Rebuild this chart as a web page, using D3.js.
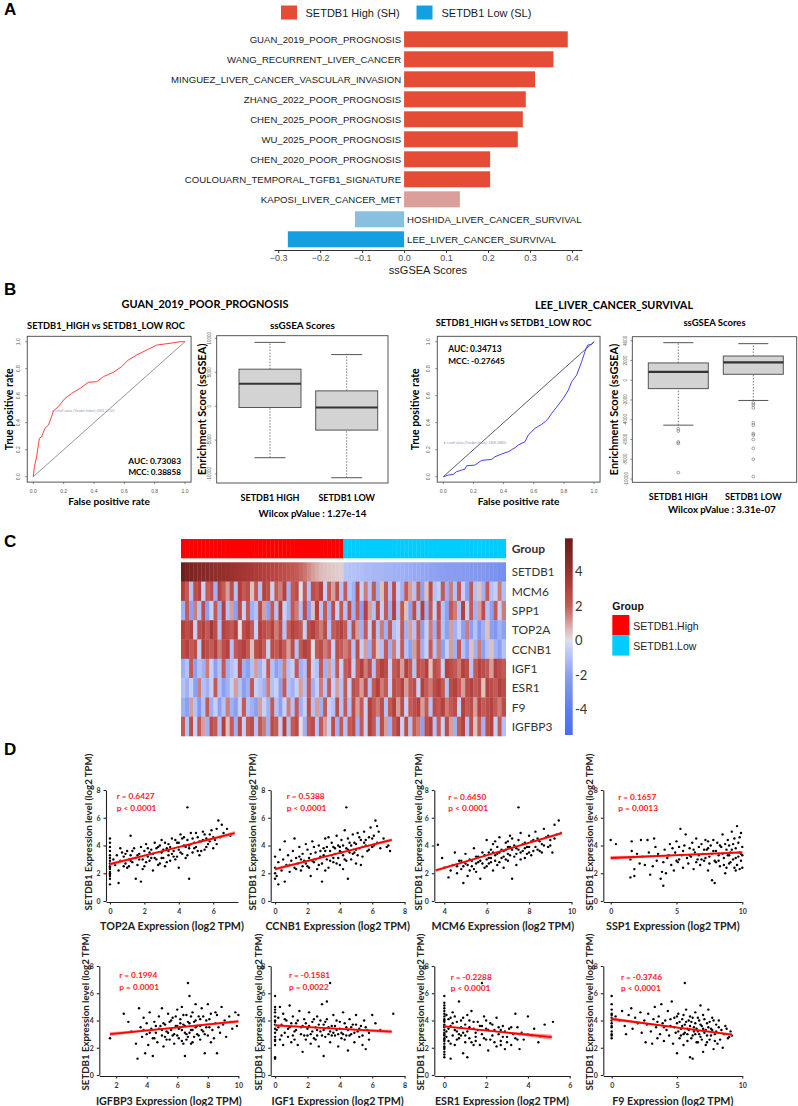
<!DOCTYPE html>
<html><head><meta charset="utf-8">
<script src="https://cdn.jsdelivr.net/npm/d3@7"></script>
<style>body{margin:0;background:#fff}svg{display:block}</style>
</head><body>
<svg id="c" width="798" height="1106"></svg>
<script>
// ---------------- DATA ----------------
// Panel A
const aCats = ["GUAN_2019_POOR_PROGNOSIS","WANG_RECURRENT_LIVER_CANCER","MINGUEZ_LIVER_CANCER_VASCULAR_INVASION","ZHANG_2022_POOR_PROGNOSIS","CHEN_2025_POOR_PROGNOSIS","WU_2025_POOR_PROGNOSIS","CHEN_2020_POOR_PROGNOSIS","COULOUARN_TEMPORAL_TGFB1_SIGNATURE","KAPOSI_LIVER_CANCER_MET","HOSHIDA_LIVER_CANCER_SURVIVAL","LEE_LIVER_CANCER_SURVIVAL"];
const aVals = [0.390,0.356,0.312,0.290,0.283,0.271,0.205,0.205,0.133,-0.117,-0.277];
const aTicks = [-0.3,-0.2,-0.1,0.0,0.1,0.2,0.3,0.4];
const aLegend = ["SETDB1 High (SH)","SETDB1 Low (SL)"];

// Panel B
const guanRoc = [[0,0],[0.007,0.074],[0.022,0.148],[0.04,0.284],[0.055,0.296],[0.077,0.358],[0.1,0.383],[0.12,0.444],[0.132,0.486],[0.165,0.519],[0.209,0.58],[0.253,0.617],[0.308,0.654],[0.363,0.699],[0.418,0.704],[0.462,0.741],[0.527,0.773],[0.582,0.815],[0.626,0.864],[0.681,0.901],[0.747,0.938],[0.813,0.975],[0.901,0.988],[0.967,1],[1,1]];
const leeRoc = [[0,0],[0.033,0.012],[0.066,0.017],[0.088,0.037],[0.122,0.049],[0.144,0.057],[0.155,0.081],[0.21,0.086],[0.254,0.121],[0.321,0.128],[0.343,0.148],[0.387,0.168],[0.431,0.185],[0.476,0.215],[0.498,0.235],[0.542,0.259],[0.564,0.309],[0.608,0.358],[0.653,0.388],[0.675,0.407],[0.697,0.432],[0.719,0.469],[0.763,0.531],[0.796,0.58],[0.83,0.642],[0.852,0.704],[0.885,0.753],[0.918,0.852],[0.94,0.926],[0.958,0.975],[0.985,0.98],[1,1]];
const rocTicks = [0,0.2,0.4,0.6,0.8,1.0];
const guanCut = [0.132,0.486];
const leeCut = [0.01,0.25];
const boxGroups = ["SETDB1 HIGH","SETDB1 LOW"];
// [lower whisker, q1, median, q3, upper whisker]
const guanBox = [[-7600,-200,3300,5450,9400],[-10550,-3530,-200,2250,7600]];
const leeBox = [[-4550,-850,850,1750,3800],[-2050,600,1800,2450,3700]];
const leeOutliers = [[-4900,-5150,-6250,-6400,-9350],[-2300,-2500,-2800,-4300,-4550,-5400,-5550,-6000,-6900,-8000,-9750]];
const guanBoxTicks = [-10000,-5000,0,5000,10000];
const leeBoxTicks = [-10000,-8000,-6000,-4000,-2000,0,2000,4000];

// Panel C
const genes = ["SETDB1","MCM6","SPP1","TOP2A","CCNB1","IGF1","ESR1","F9","IGFBP3"];
const groups = ["SETDB1.High","SETDB1.Low"];
const nHigh = 40;
const hmSETDB1 = [5.6,5.3,5.1,4.9,4.8,4.7,4.6,4.4,4.3,4.2,4.1,4.0,3.9,3.8,3.7,3.6,3.5,3.4,3.3,3.2,3.1,3.0,2.9,2.8,2.6,2.5,2.3,2.2,2.0,1.8,1.6,1.3,1.0,0.8,0.6,0.5,0.45,0.4,0.35,0.3,
 -0.9,-1.0,-1.0,-1.1,-1.1,-1.2,-1.2,-1.3,-1.3,-1.3,-1.4,-1.4,-1.5,-1.5,-1.5,-1.6,-1.6,-1.7,-1.7,-1.8,-1.8,-1.9,-1.9,-2.0,-2.0,-2.1,-2.1,-2.2,-2.2,-2.3,-2.3,-2.4,-2.4,-2.5,-2.5,-2.6,-2.7,-2.8,-2.9,-3.0];
const hmMCM6 = [3,2,-1,2.5,3,-0.5,2,2.5,-1.5,3,2,1,2.5,-1,3,2,2.5,0.5,2,-1,3,2.5,-0.5,2,1.5,3,-1.5,2,2.5,0,2,-1,2.5,2,3,-0.5,2,1,2.5,-1,
 2,-1,-1.5,2.5,-0.5,1.5,-1,2,-1.5,0.5,2,-1,2.5,-0.5,-1.5,2,1,-1,2,-2,0.5,2.5,-1,-0.5,2,-1.5,1.5,-1,2,-0.5,-2,2,-1,0.5,-1.5,2,-1,-0.5,1.5,-1];
const hmSPP1 = [-1.5,2,-2,1.5,-1,2.5,-2,-0.5,2,-1.5,3,-1,1,-2,2.5,-0.5,2,-1.5,-1,2.5,1,-2,2,-1,3,-0.5,-1.5,2,1.5,-1,2.5,-2,0.5,3,-1,2,-1.5,2.5,-0.5,2,
 -1,2.5,-1.5,2,-2,3,1,-1,2.5,-0.5,2,-1.5,3,-1,2,0.5,-2,2.5,-1,3,-1.5,2,-0.5,2.5,-1,-2,2,1.5,-1,3,-0.5,2,-1.5,1,2.5,-1,-2,2,-0.5,1.5];
const hmTOP2A = [3,2.5,3,-0.5,2.5,3,2,3.5,2.5,-1,3,2.5,2,3,0,2.5,3,2,-0.5,3,2.5,2,3,1.5,2.5,-1,2,3,2.5,2,-0.5,2.5,3,2,1.5,2.5,-1,2,2.5,3,
 2,-1,2.5,1,-1.5,2,-0.5,2.5,-1,1.5,-1.5,2,-1,-0.5,2,-1.5,1,-1,2,-2,-0.5,1.5,-1.5,2,-1,-2,1,-1.5,-0.5,-2,1.5,-2,-1,-2.5,-1.5,0.5,-2,-2.5,-1.5,-2];
const hmCCNB1 = [2.5,3,2,2.5,-0.5,3,2.5,2,3,1.5,2.5,3,-1,2,2.5,3,2,0.5,2.5,3,2,-0.5,2.5,2,3,2,1,2.5,-1,2,3,2.5,0,2,2.5,1.5,2,-0.5,2.5,2,
 1.5,2,-1,2.5,-0.5,1,-1.5,2,0.5,-1,2,-1.5,1.5,-0.5,2,-1,-2,1,2,-1.5,-0.5,2,-1,1.5,-2,-0.5,1,-1.5,2,-1,-2,0.5,-1.5,1.5,-2,-1,0.5,-1.5,-2,-1];
const hmIGF1 = [-1.5,-1,2,-2,-1,-1.5,1.5,-0.5,-2,-1,2,-1.5,-1,-0.5,2.5,-1.5,-2,-1,1,-1.5,-0.5,2,-1,-2,-1.5,1.5,-1,-0.5,2,-1.5,-1,2.5,-0.5,-1,2,-1.5,1,-1,2,-0.5,
 2,2.5,-0.5,2,3,1.5,2.5,-1,2,3,2.5,-0.5,2,2.5,1,3,2,-1,2.5,2,3,0.5,2.5,2,-0.5,3,2.5,2,1.5,3,2.5,-1,2,3,2.5,2,1,3,2.5,2];
const hmESR1 = [-1,-1.5,-0.5,-2,1.5,-1,-1.5,-0.5,2,-1,-2,-1.5,-0.5,1,-1,-2,-1.5,2,-0.5,-1,-1.5,1.5,-1,-0.5,-2,2,-1,-1.5,-0.5,1,-1,2,-1.5,-0.5,1.5,-1,2,-0.5,1,-1,
 2,-0.5,2.5,2,1,2.5,-1,2,3,1.5,2,-0.5,2.5,2,3,1,2,2.5,-0.5,3,2,1.5,2.5,3,2,-1,2.5,3,2,1,2.5,3,2,2.5,0.5,3,2.5,2,3,2.5];
const hmF9 = [-1.5,-2,1,-1,-2.5,-1,2,-1.5,-0.5,-2,-1,1.5,-1.5,-2,-0.5,2,-1,-1.5,-2,1,-0.5,-1.5,2,-1,-2,-0.5,1.5,-1,2,-1.5,-0.5,2.5,-1,1,-1.5,2,-0.5,-1,2.5,-1,
 2,-1,2.5,1,2,-0.5,3,2,1.5,2.5,-1,2,3,1,2.5,-0.5,2,2.5,3,1,2,-1,2.5,2,3,1.5,2,2.5,-0.5,3,2,2.5,1,3,2,2.5,3,2,1.5,2.5];
const hmIGFBP3 = [2,-1,2.5,-0.5,2,1,-1.5,2.5,2,-1,3,0.5,2,-1.5,2.5,-0.5,2,2.5,-1,2,1.5,-1.5,2.5,2,-0.5,3,-1,2,2.5,0,-1.5,2,2.5,-1,2,1,-0.5,2.5,-1.5,2,
 -1,2,2.5,-1.5,2,-0.5,3,2,-1,2.5,1,-1.5,2,3,-0.5,2.5,-1,2,1.5,-2,2.5,3,-1,2,-0.5,2.5,1,-1.5,2,3,-1,2.5,0.5,2,-1.5,2.5,3,-0.5,2,-1];
const cbTicks = [-4,-2,0,2,4];

// Panel D
const top2aPts = [[0,1.2],[0,1.6],[0,1.9],[0,2.1],[0,2.3],[0,2.5],[0,2.7],[0,2.9],[0,3.1],[0,3.3],[0,3.6],[0,3.9],[0,4.2],[0,4.5],[0,2.0],[0,1.8],[0,2.4],[0.2,3.0],[0.3,2.6],[0.4,3.3],[0.5,2.2],[0.5,1.3],[0.6,2.9],[0.7,3.5],[0.8,3.2],[0.9,2.7],[1.0,3.6],[1.0,2.4],[1.1,3.0],[1.2,4.7],[1.2,3.3],[1.3,2.8],[1.4,3.8],[1.5,1.6],[1.5,3.1],[1.6,2.6],[1.7,3.4],[1.8,3.9],[1.8,1.4],[1.9,3.0],[2.0,2.5],[2.0,3.6],[2.1,4.1],[2.2,3.2],[2.3,2.9],[2.4,3.7],[2.5,2.2],[2.5,3.4],[2.6,4.2],[2.7,3.0],[2.8,3.9],[2.9,2.7],[3.0,3.5],[3.0,4.4],[3.1,3.1],[3.2,2.5],[3.3,3.8],[3.4,4.1],[3.4,3.3],[3.5,2.9],[3.6,4.5],[3.7,3.6],[3.8,3.0],[3.9,4.2],[4.0,3.7],[4.0,2.4],[4.1,4.8],[4.2,3.4],[4.3,4.0],[4.4,3.1],[4.5,4.4],[4.5,6.75],[4.6,3.8],[4.6,1.6],[4.7,4.9],[4.8,3.5],[4.9,4.2],[5.0,3.9],[5.1,4.6],[5.2,3.3],[5.3,4.3],[5.4,5.0],[5.5,3.7],[5.6,4.5],[5.7,4.1],[5.8,4.8],[5.9,5.1],[6.0,3.8],[6.1,4.4],[6.2,5.2],[6.3,5.8],[6.4,4.6],[6.5,5.5],[6.6,4.9],[6.8,5.2],[7.0,4.7],[2.7,3.8],[3.6,3.4],[4.3,4.6],[1.9,2.3],[2.9,4.0],[3.9,3.2],[5.1,3.6],
 [0.6,3.8],[0.9,3.4],[1.1,2.5],[1.3,3.6],[1.6,3.3],[2.1,2.8],[2.3,3.5],[2.6,3.1],[2.8,2.6],[3.1,3.7],[3.2,4.2],[3.3,2.8],[3.5,3.9],[3.7,3.2],[3.8,4.4],[4.1,3.5],[4.2,4.5],[4.4,3.9],[4.5,3.3],[4.7,4.1],[4.8,4.5],[4.9,3.8],[5.0,4.9],[5.2,4.3],[5.3,3.6],[5.5,4.8],[5.6,3.9],[5.8,4.3],[6.0,4.6],[6.2,4.1],[3.4,3.6],[2.4,3.1],[1.7,3.0],[1.2,2.9],[0.8,2.5],[4.0,4.2],[3.0,3.1],[2.2,3.8],[5.4,4.4],[4.6,4.0]];
const ccnb1Pts = [[0,1.6],[0,2.0],[0,2.4],[0,3.2],[0.1,1.8],[0.2,2.8],[0.2,1.2],[0.3,3.7],[0.4,2.2],[0.5,3.0],[0.6,4.3],[0.6,1.4],[0.7,2.6],[0.8,3.3],[0.9,2.1],[1.0,2.9],[1.1,3.6],[1.2,2.4],[1.2,4.5],[1.3,3.1],[1.4,2.7],[1.5,3.9],[1.6,2.2],[1.7,3.4],[1.8,2.9],[1.9,4.1],[2.0,2.5],[2.0,3.7],[2.1,3.1],[2.2,1.8],[2.3,4.3],[2.4,2.8],[2.5,3.5],[2.6,2.3],[2.7,4.0],[2.8,3.2],[2.9,1.4],[2.9,2.7],[3.0,3.8],[3.1,4.5],[3.2,3.0],[3.3,2.4],[3.4,3.6],[3.5,4.2],[3.6,2.8],[3.7,3.4],[3.8,4.7],[3.9,3.1],[4.0,2.6],[4.0,3.9],[4.1,4.4],[4.2,3.3],[4.3,5.1],[4.4,2.9],[4.4,6.75],[4.5,3.7],[4.5,1.6],[4.6,4.2],[4.7,3.0],[4.8,4.8],[4.9,3.5],[5.0,4.1],[5.0,2.7],[5.1,4.9],[5.2,3.8],[5.3,4.4],[5.4,3.2],[5.5,5.0],[5.6,4.0],[5.7,3.6],[5.8,4.6],[5.9,5.3],[6.0,3.9],[6.1,4.7],[6.2,5.8],[6.2,4.1],[6.3,5.4],[6.5,3.8],[6.7,4.5],[6.9,3.9],[7.0,4.0],[7.1,3.6],[3.1,2.2],[2.4,3.9],[3.6,3.9],[4.2,2.3],[1.6,3.0],[5.3,2.6],[4.8,3.4],[3.3,4.6],
 [0.9,2.6],[1.3,2.3],[1.5,3.2],[1.9,2.7],[2.2,3.4],[2.5,3.0],[2.7,2.6],[2.8,3.6],[3.0,3.3],[3.2,3.9],[3.4,2.9],[3.5,3.3],[3.7,3.8],[3.9,4.0],[4.1,3.5],[4.2,4.0],[4.3,3.0],[4.5,4.5],[4.6,3.5],[4.7,4.0],[4.9,4.2],[5.1,3.3],[5.2,4.6],[5.4,3.9],[5.6,4.4],[5.8,3.7],[6.0,4.5],[6.1,4.0],[6.3,4.2],[6.4,5.0],[2.3,2.9],[3.6,3.1],[4.0,3.6],[4.4,3.8],[3.1,3.6],[2.1,2.4],[5.0,3.7],[5.5,4.2],[1.7,2.5],[3.8,2.7]];
const mcm6Pts = [[3.7,4.05],[3.9,3.1],[4.0,2.4],[4.2,1.7],[4.3,2.2],[4.4,2.6],[4.5,3.5],[4.6,2.0],[4.7,2.9],[4.8,2.3],[4.9,1.3],[5.0,2.7],[5.0,3.4],[5.1,1.8],[5.2,3.0],[5.3,2.5],[5.4,3.8],[5.5,2.1],[5.5,3.2],[5.6,2.8],[5.7,1.6],[5.8,3.5],[5.9,2.4],[6.0,3.0],[6.0,4.4],[6.1,2.7],[6.2,3.7],[6.3,2.2],[6.3,4.1],[6.4,3.3],[6.5,2.6],[6.5,3.9],[6.6,4.6],[6.7,3.1],[6.8,3.6],[6.8,2.4],[6.9,4.2],[7.0,3.4],[7.0,2.9],[7.1,3.9],[7.2,1.6],[7.2,4.5],[7.3,3.2],[7.4,3.8],[7.5,4.4],[7.5,6.75],[7.6,3.0],[7.6,4.9],[7.7,3.6],[7.8,4.2],[7.9,3.4],[8.0,4.7],[8.0,3.9],[8.1,3.3],[8.2,4.4],[8.3,5.0],[8.4,3.7],[8.5,4.3],[8.6,3.5],[8.7,5.2],[8.8,4.6],[8.9,3.9],[9.0,4.4],[9.1,3.5],[9.2,5.5],[9.3,4.8],[9.4,5.8],[9.5,4.9],[6.2,3.1],[5.7,2.9],[6.9,3.0],[7.4,2.6],[8.2,3.6],[6.6,3.5],[5.4,2.3],[7.8,3.1],[6.1,3.5],[7.1,4.7],[4.9,2.5],[8.6,4.1],
 [4.6,2.5],[4.8,2.9],[5.1,2.6],[5.2,2.2],[5.3,2.9],[5.6,3.2],[5.8,2.7],[5.9,3.3],[6.0,2.5],[6.1,3.1],[6.2,2.8],[6.3,3.5],[6.4,2.9],[6.5,3.4],[6.6,2.8],[6.7,3.7],[6.8,3.2],[6.9,3.7],[7.0,3.9],[7.1,3.3],[7.2,3.7],[7.3,4.0],[7.4,3.4],[7.5,3.7],[7.6,3.5],[7.7,4.1],[7.8,3.8],[7.9,3.9],[8.0,3.5],[8.1,4.3],[8.3,3.9],[8.4,4.5],[8.5,3.6],[8.7,4.0],[8.9,4.7],[9.0,4.0],[9.2,4.5],[6.4,4.3],[7.0,4.3],[5.5,2.7]];
const ssp1Pts = [[0,4.4],[0.4,4.1],[1.5,3.0],[1.5,1.7],[1.6,4.3],[1.6,3.6],[1.8,2.3],[1.8,1.8],[2.0,3.4],[2.3,4.4],[2.4,3.2],[2.6,2.6],[2.8,4.4],[2.9,3.5],[3.0,1.9],[3.2,2.5],[3.3,4.5],[3.5,2.9],[3.6,3.4],[3.8,1.6],[3.9,2.1],[4.0,1.1],[4.1,3.7],[4.2,2.0],[4.3,3.1],[4.5,4.1],[4.6,2.6],[4.7,3.8],[4.8,2.2],[4.9,3.5],[5.0,4.3],[5.1,2.8],[5.2,3.9],[5.3,5.2],[5.4,3.3],[5.5,2.4],[5.6,4.0],[5.7,4.8],[5.8,3.1],[5.9,2.7],[6.0,3.8],[6.2,4.2],[6.3,2.3],[6.4,3.5],[6.5,4.5],[6.6,3.0],[6.7,3.9],[6.8,2.6],[6.9,4.1],[7.0,3.4],[7.1,2.9],[7.2,4.4],[7.3,3.7],[7.4,2.2],[7.5,3.2],[7.6,4.0],[7.7,1.5],[7.8,3.6],[7.9,1.3],[8.0,2.8],[8.1,4.2],[8.2,3.3],[8.3,2.5],[8.4,3.9],[8.5,4.8],[8.6,3.1],[8.7,2.0],[8.8,3.7],[8.9,4.4],[9.0,2.7],[9.1,3.5],[9.2,5.0],[9.3,4.1],[9.4,2.4],[9.5,3.8],[9.6,5.4],[9.7,3.2],[9.8,4.6],[9.9,2.9],[10.0,3.9],[9.9,3.4],[9.5,2.2],[9.0,3.3],[8.8,2.4],[7.4,3.8],
 [6.1,3.2],[6.3,3.7],[6.5,2.8],[6.7,3.3],[6.9,3.0],[7.1,3.7],[7.2,3.1],[7.4,4.3],[7.5,2.7],[7.7,3.4],[7.8,4.4],[7.9,2.9],[8.0,3.6],[8.2,2.9],[8.3,4.0],[8.5,3.4],[8.6,2.6],[8.7,4.1],[8.9,3.3],[9.0,4.0],[9.1,2.8],[9.2,3.7],[9.3,3.0],[9.4,4.5],[9.5,3.1],[9.6,2.6],[9.7,4.2],[9.8,3.5],[9.9,4.9],[10.0,3.3],[10.0,2.4],[9.8,2.3],[5.5,3.6],[5.0,2.9],[4.4,3.3],[5.2,3.0],[6.0,3.3],[4.0,2.8],[3.4,3.9],[2.2,2.7]];
const igfbp3Pts = [[1.6,2.7],[2.5,4.5],[2.8,3.9],[3.0,3.2],[3.3,2.3],[3.4,1.2],[3.5,4.9],[3.6,3.5],[3.7,2.8],[3.8,4.2],[3.9,1.6],[4.0,3.0],[4.0,3.8],[4.1,2.2],[4.2,4.6],[4.3,3.4],[4.4,1.4],[4.4,2.7],[4.5,3.9],[4.6,3.1],[4.7,2.4],[4.8,4.3],[4.9,3.6],[5.0,2.9],[5.0,4.9],[5.1,2.1],[5.2,3.7],[5.3,3.2],[5.4,4.5],[5.5,2.6],[5.5,3.9],[5.6,3.3],[5.7,4.2],[5.8,2.3],[5.9,3.6],[6.0,4.8],[6.0,2.9],[6.1,3.4],[6.2,4.1],[6.3,2.5],[6.3,5.0],[6.4,3.7],[6.5,1.4],[6.5,3.1],[6.6,4.4],[6.7,6.75],[6.7,2.8],[6.8,3.8],[6.8,5.8],[6.9,3.3],[7.0,4.6],[7.0,2.4],[7.1,3.9],[7.2,5.2],[7.3,3.0],[7.4,4.3],[7.5,2.6],[7.5,3.6],[7.6,4.9],[7.7,3.2],[7.8,1.6],[7.9,4.0],[8.0,2.9],[8.0,5.2],[8.1,3.5],[8.2,4.5],[8.4,2.7],[8.5,3.8],[8.6,1.6],[8.6,4.4],[8.8,3.1],[8.9,5.0],[9.0,3.7],[9.2,2.8],[9.4,4.3],[9.6,3.4],[9.8,4.6],[9.9,3.6],[10.0,4.4],[5.8,3.0],[6.2,3.5],[6.6,3.0],[7.2,3.5],[5.3,2.6],[6.9,2.3],
 [4.2,3.1],[4.5,2.7],[4.8,3.4],[5.1,3.8],[5.2,2.8],[5.4,3.1],[5.6,4.0],[5.7,2.9],[5.9,4.3],[6.0,3.6],[6.1,2.7],[6.2,3.8],[6.3,3.3],[6.4,4.4],[6.5,3.6],[6.6,2.6],[6.7,3.9],[6.8,3.1],[6.9,4.3],[7.0,3.3],[7.1,2.8],[7.2,4.0],[7.3,3.6],[7.4,2.9],[7.6,3.3],[7.7,4.3],[7.8,3.0],[7.9,3.5],[8.1,4.1],[8.3,3.3],[8.5,4.6],[8.7,3.5],[9.1,4.0],[9.5,3.9],[4.6,3.6],[5.0,3.3],[3.8,3.3],[6.4,2.3],[7.5,4.1],[8.2,2.4]];
const igf1Pts = [[0,1.2],[0,1.3],[0,2.2],[0,2.5],[0,2.8],[0,3.1],[0,3.4],[0,3.7],[0,4.0],[0,4.3],[0,4.6],[0,5.0],[0,5.8],[0,3.9],[0,2.6],[0,4.8],[0.1,3.3],[0.2,4.2],[0.3,2.6],[0.3,5.0],[0.4,3.7],[0.5,2.2],[0.5,4.5],[0.6,3.1],[0.7,4.0],[0.8,2.8],[0.9,3.5],[0.9,5.1],[1.0,2.4],[1.1,4.3],[1.2,3.2],[1.3,3.8],[1.4,2.2],[1.5,4.7],[1.6,3.0],[1.7,1.7],[1.7,3.6],[1.8,4.1],[1.9,2.6],[2.0,3.4],[2.1,4.6],[2.2,2.3],[2.2,3.0],[2.3,3.9],[2.4,2.7],[2.5,3.5],[2.6,4.3],[2.7,2.1],[2.8,3.2],[2.9,5.2],[3.0,1.4],[3.0,3.7],[3.1,2.8],[3.2,4.1],[3.2,5.4],[3.3,3.0],[3.4,6.75],[3.4,2.4],[3.5,3.6],[3.6,4.4],[3.7,2.9],[3.8,3.3],[3.9,2.1],[4.0,3.9],[4.1,3.1],[4.2,4.6],[4.3,2.6],[4.4,3.5],[4.5,1.8],[4.6,4.1],[4.7,3.0],[4.8,3.7],[4.9,2.4],[5.0,4.4],[5.1,3.2],[5.2,2.8],[5.3,3.6],[5.4,2.2],[5.5,4.0],[5.6,1.9],[5.7,3.3],[5.8,2.6],[6.0,4.4],[6.2,3.8],[6.5,3.3],[7.3,4.5],[1.2,2.6],[2.6,3.3],[3.6,3.1],[4.4,2.9],[1.8,2.9],
 [0.2,3.5],[0.4,2.9],[0.6,4.1],[0.8,3.4],[1.0,3.8],[1.1,2.9],[1.3,3.3],[1.4,4.0],[1.6,3.5],[1.9,3.8],[2.0,2.9],[2.1,3.6],[2.3,3.2],[2.4,4.1],[2.5,2.6],[2.7,3.7],[2.8,4.0],[2.9,2.9],[3.0,3.3],[3.1,3.9],[3.3,3.5],[3.5,2.9],[3.7,3.6],[3.8,4.0],[3.9,3.0],[4.0,3.4],[4.1,2.7],[4.3,3.8],[4.5,3.3],[4.6,2.9],[4.7,3.5],[4.9,3.1],[5.0,3.7],[5.2,3.4],[5.4,2.9],[5.6,3.5],[5.8,3.1],[4.2,3.0],[3.4,3.2],[2.6,2.9]];
const esr1Pts = [[0,1.3],[0,1.5],[0,1.7],[0,1.9],[0,2.1],[0,2.3],[0,2.5],[0,2.7],[0,2.9],[0,3.1],[0,3.3],[0,3.5],[0,3.7],[0,3.9],[0,4.1],[0,4.3],[0,4.5],[0,4.7],[0,4.9],[0,5.1],[0,5.3],[0,5.8],[0,2.0],[0,3.0],[0,4.0],[0,3.6],[0,2.6],[0.1,3.2],[0.2,2.5],[0.2,4.1],[0.3,1.2],[0.3,3.6],[0.4,2.9],[0.4,4.6],[0.5,2.2],[0.5,3.3],[0.6,3.9],[0.7,5.4],[0.7,2.7],[0.8,3.5],[0.9,1.6],[0.9,4.2],[1.0,2.9],[1.0,3.7],[1.1,1.3],[1.1,3.2],[1.2,4.0],[1.3,2.4],[1.3,4.7],[1.4,3.4],[1.5,2.8],[1.6,3.9],[1.7,2.2],[1.7,3.6],[1.8,6.75],[1.8,3.0],[1.9,4.3],[2.0,2.6],[2.0,3.4],[2.1,1.8],[2.2,3.8],[2.3,2.9],[2.4,3.3],[2.5,2.1],[2.5,4.2],[2.6,3.0],[2.7,2.5],[2.8,3.6],[2.9,1.9],[3.0,2.8],[3.1,3.4],[3.2,2.2],[3.3,3.0],[3.4,4.5],[3.5,2.6],[3.6,1.9],[3.7,3.1],[4.0,4.3],[4.2,2.9],[4.5,2.4],[4.8,3.7],[5.2,3.9],[1.5,3.1],[2.7,3.3],[3.5,3.5],
 [0.1,2.8],[0.1,4.4],[0.2,3.4],[0.3,2.3],[0.4,3.8],[0.5,4.3],[0.6,2.6],[0.6,3.2],[0.8,2.9],[0.8,4.0],[0.9,3.1],[1.0,2.4],[1.2,3.5],[1.2,2.7],[1.4,3.9],[1.5,2.5],[1.6,3.3],[1.8,3.6],[1.9,2.7],[2.1,3.3],[2.2,2.6],[2.3,3.7],[2.4,2.4],[2.6,3.5],[2.8,2.8],[2.9,3.2],[3.0,2.4],[3.2,3.5],[3.4,2.7],[3.6,3.0],[3.8,2.6],[4.0,3.0],[4.3,3.4],[4.6,2.8],[1.1,4.4],[0.7,3.0],[0.3,4.2],[2.0,4.0],[1.4,2.2],[2.7,2.2]];
const f9Pts = [[0,2.7],[0,2.9],[0,3.2],[0,3.5],[0,3.8],[0,4.0],[0,4.2],[0,4.5],[0,4.8],[0,5.2],[0,5.8],[0,3.0],[0,3.6],[0,4.4],[0.3,4.3],[0.6,4.0],[0.8,4.7],[1.0,3.6],[1.1,3.0],[1.3,4.4],[1.5,4.9],[1.6,3.4],[1.8,4.2],[2.0,3.8],[2.2,4.6],[2.3,3.1],[2.5,4.0],[2.6,2.4],[2.7,3.7],[2.8,4.5],[3.0,3.2],[3.1,2.3],[3.2,4.1],[3.3,5.0],[3.4,3.5],[3.5,2.7],[3.6,4.3],[3.7,3.0],[3.8,5.2],[3.9,3.8],[4.0,2.5],[4.1,4.0],[4.2,3.3],[4.3,4.7],[4.4,2.9],[4.5,3.6],[4.6,5.4],[4.7,2.3],[4.8,4.2],[4.9,3.1],[5.0,1.6],[5.0,3.8],[5.1,4.5],[5.2,2.7],[5.3,3.4],[5.4,4.1],[5.5,2.2],[5.5,3.0],[5.6,6.75],[5.6,3.7],[5.7,4.8],[5.8,2.5],[5.9,3.3],[6.0,4.3],[6.0,1.3],[6.1,3.9],[6.2,2.9],[6.2,1.2],[6.3,3.5],[6.4,4.6],[6.5,2.4],[6.6,3.2],[6.7,4.0],[6.8,5.1],[6.8,2.8],[6.9,3.6],[7.0,1.7],[7.0,4.4],[7.1,3.1],[7.2,2.2],[7.3,3.8],[7.4,4.8],[7.5,2.6],[7.6,3.4],[7.7,4.2],[7.8,1.9],[7.9,3.0],[8.0,3.7],[8.1,2.3],[8.2,4.0],[8.4,3.3],[8.5,2.0],[8.7,3.6],[8.9,2.7],[9.1,3.2],[9.2,2.9],[6.4,3.0],[5.8,3.4],[7.3,2.9],[6.6,2.4],
 [4.5,4.1],[4.8,3.5],[5.0,4.3],[5.1,3.2],[5.2,3.9],[5.3,2.9],[5.4,3.6],[5.5,4.4],[5.6,3.1],[5.7,3.9],[5.8,3.0],[5.9,4.0],[6.0,3.6],[6.1,2.7],[6.2,4.2],[6.3,3.2],[6.4,3.8],[6.5,3.4],[6.6,4.2],[6.7,3.0],[6.8,3.7],[6.9,2.6],[7.0,3.4],[7.1,4.1],[7.2,3.3],[7.3,2.4],[7.4,3.5],[7.5,3.9],[7.6,2.9],[7.7,3.3],[7.8,4.0],[7.9,2.5],[8.0,3.2],[8.2,3.5],[8.3,2.6],[8.6,3.0],[8.8,3.4],[9.0,2.8],[3.5,3.9],[4.0,3.5]];
// regression line ends [x0,y0,x1,y1] and CI half-widths [start, middle, end]
const scatterGenes = ["TOP2A","CCNB1","MCM6","SSP1","IGFBP3","IGF1","ESR1","F9"];
const fitLines = [[0,2.65,7.25,4.9],[0,2.3,7.2,4.4],[3.6,2.2,9.54,4.9],[0,3.1,10,3.5],[1.6,3.0,10,3.93],[0,3.64,7.2,3.18],[0,3.57,5.14,2.78],[0,4.11,9.2,2.96]];
const fitCI = [[0.13,0.05,0.15],[0.12,0.05,0.12],[0.1,0.04,0.1],[0.15,0.06,0.1],[0.14,0.06,0.12],[0.1,0.05,0.14],[0.08,0.06,0.2],[0.12,0.05,0.1]];
const rTexts = ["r = 0.6427","r = 0.5388","r = 0.6450","r = 0.1657","r = 0.1994","r = -0.1581","r = -0.2288","r = -0.3746"];
const pTexts = ["p < 0.0001","p < 0,0001","p < 0.0001","p = 0,0013","p = 0.0001","p = 0,0022","p < 0.0001","p < 0,0001"];
const yTickVals = [0,2,4,6,8];

// ---------------- DRAW ----------------
const svg = d3.select('#c');
svg.append('rect').attr('width',798).attr('height',1106).attr('fill','#fff');
const FA = "'Liberation Sans', Arial, sans-serif";
const FC = "Lato, 'Open Sans', sans-serif";

function txt(g, x, y, s, o={}){
  const t = g.append('text').attr('x',x).attr('y',y).text(s)
    .attr('font-family', o.f||FA).attr('font-weight', o.w||'normal')
    .attr('font-size', o.s||10).attr('fill', o.c||'#000')
    .attr('text-anchor', o.a||'start').attr('dominant-baseline', o.b||'central');
  if (o.fit){ const w = t.node().getComputedTextLength(); t.attr('font-size',(o.s||10)*o.fit/w); }
  if (o.r) t.attr('transform',`rotate(${o.r},${x},${y})`);
  return t;
}
function sizeFor(s, f, w, target){
  const t = svg.append('text').attr('font-family',f).attr('font-weight',w).attr('font-size',100).text(s);
  const len = t.node().getComputedTextLength(); t.remove(); return 100*target/len;
}

// Panel letters
[['A',15],['B',295],['C',547],['D',755]].forEach(([l,y])=>txt(svg,4,y,l,{w:'bold',s:17,b:'auto'}));

// ---- Panel A ----
(function(){
  const g = svg.append('g');
  const x = d3.scaleLinear().domain([-0.31,0.424]).range([274,582]);
  const y = d3.scaleBand().domain(aCats).range([29.3,249.3]).paddingInner(0.2).paddingOuter(0.1);
  const fill = ['#E64B35','#E64B35','#E64B35','#E64B35','#E64B35','#E64B35','#E64B35','#E64B35','#DC9E99','#87C1DF','#139FE2'];
  g.selectAll('rect.bar').data(aCats).join('rect').attr('class','bar')
    .attr('x',(d,i)=>x(Math.min(0,aVals[i]))).attr('width',(d,i)=>Math.abs(x(aVals[i])-x(0)))
    .attr('y',d=>y(d)).attr('height',y.bandwidth()).attr('fill',(d,i)=>fill[i]);
  aCats.forEach((c,i)=>{
    const pos = aVals[i]>=0;
    txt(g, pos? x(0)-3 : x(0)+3, y(c)+y.bandwidth()/2, c, {s:9.6, c:'#1a1a1a', a: pos?'end':'start'});
  });
  const ax = g.append('g').attr('transform','translate(0,250)')
    .call(d3.axisBottom(x).tickValues(aTicks).tickSize(3).tickSizeOuter(0).tickFormat(d3.format('.1f')));
  ax.selectAll('path,line').attr('stroke','#333');
  ax.selectAll('text').attr('font-family',FA).attr('font-size',9).attr('fill','#4d4d4d').attr('dy','0.6em');
  txt(g, 428, 270, 'ssGSEA Scores', {s:11, c:'#1a1a1a', a:'middle'});
  const lx = [281, 416.5], tx=[305.5, 441.5], lc=['#E64B35','#139FE2'];
  aLegend.forEach((s,i)=>{
    g.append('rect').attr('x',lx[i]).attr('y',5.5).attr('width',16).attr('height',14).attr('fill',lc[i]);
    txt(g, tx[i], 12.7, s, {s:11, c:'#1a1a1a'});
  });
})();

// ---- Panel B ----
function drawROC(cfg){
  const g = svg.append('g');
  const x = d3.scaleLinear().domain([0,1]).range(cfg.xR);
  const y = d3.scaleLinear().domain([0,1]).range(cfg.yR);
  const ex = 0.04*(cfg.xR[1]-cfg.xR[0]), ey = 0.04*(cfg.yR[0]-cfg.yR[1]);
  const fx0 = cfg.xR[0]-ex, fx1 = cfg.xR[1]+ex, fy0 = cfg.yR[1]-ey, fy1 = cfg.yR[0]+ey;
  g.append('line').attr('x1',x(0)).attr('y1',y(0)).attr('x2',x(1)).attr('y2',y(1)).attr('stroke',cfg.diag).attr('stroke-width',0.8);
  g.append('path').datum(cfg.pts).attr('d',d3.line().x(d=>x(d[0])).y(d=>y(d[1]))).attr('fill','none').attr('stroke',cfg.color).attr('stroke-width',1);
  g.append('rect').attr('x',fx0).attr('y',fy0).attr('width',fx1-fx0).attr('height',fy1-fy0).attr('fill','none').attr('stroke','#444').attr('stroke-width',0.9);
  rocTicks.forEach(v=>{
    g.append('line').attr('x1',x(v)).attr('x2',x(v)).attr('y1',fy1).attr('y2',fy1+2).attr('stroke','#444').attr('stroke-width',0.6);
    txt(g, x(v), fy1+8.5, v.toFixed(1), {s:5, c:'#555', a:'middle'});
    g.append('line').attr('x1',fx0-2).attr('x2',fx0).attr('y1',y(v)).attr('y2',y(v)).attr('stroke','#444').attr('stroke-width',0.6);
    txt(g, fx0-9, y(v), v.toFixed(1), {s:5, c:'#555', a:'middle', r:-90});
  });
  g.append('circle').attr('cx',x(cfg.cut[0])).attr('cy',y(cfg.cut[1])).attr('r',0.8).attr('fill','#8090b0');
  txt(g, x(cfg.cut[0])+2, y(cfg.cut[1]), cfg.cutText, {s:3.3, c:'#8a9ac0'});
  txt(g, cfg.subX, cfg.subY, 'SETDB1_HIGH vs SETDB1_LOW ROC', {f:FC, w:'bold', s:10, a:'middle', fit:cfg.subW});
  txt(g, cfg.ytX, (fy0+fy1)/2, 'True positive rate', {f:FC, w:'bold', s:10, a:'middle', r:-90, fit:82});
  txt(g, (fx0+fx1)/2, cfg.xtY, 'False positive rate', {f:FC, w:'bold', s:10, a:'middle', fit:81.7});
  txt(g, cfg.aucX, cfg.aucY, cfg.auc, {f:FC, w:'bold', s:8, a:cfg.aucA, fit:cfg.aucW});
  txt(g, cfg.aucX, cfg.aucY+11.5, cfg.mcc, {f:FC, w:'bold', s:8, a:cfg.aucA, fit:cfg.mccW});
}
function drawBox(cfg){
  const g = svg.append('g');
  const y = d3.scaleLinear().domain(cfg.dom).range(cfg.yR);
  const [fx0,fx1,fy0,fy1] = cfg.frame;
  cfg.stats.forEach((s,i)=>{
    const cx = cfg.centers[i], hw = cfg.bw/2;
    g.append('line').attr('x1',cx).attr('x2',cx).attr('y1',y(s[0])).attr('y2',y(s[1])).attr('stroke','#555').attr('stroke-width',0.8).attr('stroke-dasharray','1.5,1.5');
    g.append('line').attr('x1',cx).attr('x2',cx).attr('y1',y(s[3])).attr('y2',y(s[4])).attr('stroke','#555').attr('stroke-width',0.8).attr('stroke-dasharray','1.5,1.5');
    [s[0],s[4]].forEach(v=>g.append('line').attr('x1',cx-hw/2).attr('x2',cx+hw/2).attr('y1',y(v)).attr('y2',y(v)).attr('stroke','#555').attr('stroke-width',1));
    g.append('rect').attr('x',cx-hw).attr('y',y(s[3])).attr('width',2*hw).attr('height',y(s[1])-y(s[3])).attr('fill','#D3D3D3').attr('stroke','#555').attr('stroke-width',1);
    g.append('line').attr('x1',cx-hw).attr('x2',cx+hw).attr('y1',y(s[2])).attr('y2',y(s[2])).attr('stroke','#333').attr('stroke-width',2.2);
    if (cfg.out) cfg.out[i].forEach(v=>g.append('circle').attr('cx',cx).attr('cy',y(v)).attr('r',1.4).attr('fill','none').attr('stroke','#666').attr('stroke-width',0.6));
    txt(g, cx, cfg.labY, boxGroups[i], {f:FC, w:'bold', s:10, a:'middle', fit: i==0?59:56.7});
  });
  g.append('rect').attr('x',fx0).attr('y',fy0).attr('width',fx1-fx0).attr('height',fy1-fy0).attr('fill','none').attr('stroke','#444').attr('stroke-width',0.9);
  cfg.ticks.forEach(v=>{
    g.append('line').attr('x1',fx0-2).attr('x2',fx0).attr('y1',y(v)).attr('y2',y(v)).attr('stroke','#444').attr('stroke-width',0.6);
    txt(g, cfg.tickX, y(v), String(v), {s:4.5, c:'#555', a:'middle', r:-90});
  });
  txt(g, (fx0+fx1)/2, cfg.subY, 'ssGSEA Scores', {f:FC, w:'bold', s:10, a:'middle', fit:cfg.subW});
  txt(g, cfg.ytX, (fy0+fy1)/2, 'Enrichment Score (ssGSEA)', {f:FC, w:'bold', s:10, a:'middle', r:-90, fit:131.7});
  txt(g, cfg.wX, cfg.wY, cfg.wText, {f:FC, w:'bold', s:10, a:'middle', fit:108});
}
txt(svg, 205, 303, 'GUAN_2019_POOR_PROGNOSIS', {f:FC, w:'bold', s:11, a:'middle', fit:167});
txt(svg, 614, 304, 'LEE_LIVER_CANCER_SURVIVAL', {f:FC, w:'bold', s:11, a:'middle', fit:158.3});
drawROC({xR:[33.3,185], yR:[476.7,341.7], pts:guanRoc, color:'#FF4040', diag:'#777', cut:guanCut,
  cutText:'cutoff value (Youden Index): 0631.17101', subX:106, subY:325, subW:158, ytX:9, xtY:501,
  auc:'AUC: 0.73083', mcc:'MCC: 0.38858', aucX:181, aucY:460.7, aucA:'end', aucW:52.7, mccW:52.7});
drawROC({xR:[443.3,594], yR:[476.7,341.7], pts:leeRoc, color:'#4040FF', diag:'#333', cut:leeCut,
  cutText:'cutoff value (Youden Index): 1808.28800', subX:513.7, subY:322.7, subW:156, ytX:415, xtY:500.7,
  auc:'AUC: 0.34713', mcc:'MCC: -0.27645', aucX:448.3, aucY:349, aucA:'start', aucW:53.3, mccW:56.7});
drawBox({dom:[-10000,10000], yR:[474,338.3], frame:[216.7,388,335.7,483], centers:[270,346.7], bw:62,
  stats:guanBox, ticks:guanBoxTicks, tickX:209.5, subY:325, subW:65, ytX:201.7, labY:497,
  wX:312.5, wY:513.3, wText:'Wilcox pValue : 1.27e-14'});
drawBox({dom:[-10000,4000], yR:[479,340.7], frame:[632.3,796.7,336.7,482.3], centers:[678.3,753.3], bw:60,
  stats:leeBox, out:leeOutliers, ticks:leeBoxTicks, tickX:626, subY:322.7, subW:62.3, ytX:613.3, labY:496.7,
  wX:721.8, wY:509.3, wText:'Wilcox pValue : 3.31e-07'});

// ---- Panel C ----
(function(){
  const g = svg.append('g');
  const rows = [hmSETDB1,hmMCM6,hmSPP1,hmTOP2A,hmCCNB1,hmIGF1,hmESR1,hmF9,hmIGFBP3];
  const n = hmSETDB1.length;
  const x = d3.scaleBand().domain(d3.range(n)).range([181,505.7]);
  const y = d3.scaleBand().domain(genes).range([562.3,736]);
  const col = d3.scaleLinear()
    .domain([-5.5,-4,-2,-1,-0.3,0,0.4,1,2,3,4,5.9])
    .range(['#4B6AF0','#5F7EF1','#8C9FF2','#B3C1F6','#CDD5F6','#E2DDE6','#DEC8C8','#D69E9B','#C45A55','#B4413E','#98302D','#6A1B1B'])
    .interpolate(d3.interpolateRgb).clamp(true);
  const gc = ['#FF0000','#00CCFF'];
  g.selectAll('rect.grp').data(d3.range(n)).join('rect').attr('class','grp')
    .attr('x',d=>x(d)).attr('width',x.bandwidth()+0.3).attr('y',539).attr('height',19.3)
    .attr('fill',d=> d<nHigh?gc[0]:gc[1]);
  rows.forEach((r,ri)=>{
    g.selectAll(null).data(r).join('rect')
      .attr('x',(d,i)=>x(i)).attr('width',x.bandwidth()+0.3)
      .attr('y',y(genes[ri])).attr('height',y.bandwidth()+0.3).attr('fill',d=>col(d));
    txt(g, 511.7, y(genes[ri])+y.bandwidth()/2, genes[ri], {f:FC, s:12, c:'#333', fit: ri==0?42.7:undefined});
  });
  txt(g, 511.7, 548, 'Group', {f:FC, w:'bold', s:12, c:'#333'});
  const cb = d3.scaleLinear().domain([-5.5,5.9]).range([735,538.3]);
  const grad = svg.append('defs').append('linearGradient').attr('id','cbg').attr('x1',0).attr('x2',0).attr('y1',1).attr('y2',0);
  col.domain().forEach(v=>grad.append('stop').attr('offset',(v+5.5)/11.4).attr('stop-color',col(v)));
  g.append('rect').attr('x',565).attr('y',538.3).attr('width',7.7).attr('height',196.7).attr('fill','url(#cbg)');
  cbTicks.forEach(v=>txt(g, 575, cb(v), String(v), {f:FC, s:13, c:'#333'}));
  txt(g, 612.3, 606, 'Group', {f:FA, w:'bold', s:10.5, c:'#111'});
  groups.forEach((s,i)=>{
    g.append('rect').attr('x',612.3).attr('y',615+i*20.3).attr('width',17).attr('height',20.3).attr('fill',gc[i]);
    txt(g, 633.3, 626+i*19.7, s, {f:FA, s:10.5, c:'#222'});
  });
})();

// ---- Panel D ----
const scatterPts = [top2aPts,ccnb1Pts,mcm6Pts,ssp1Pts,igfbp3Pts,igf1Pts,esr1Pts,f9Pts];
const layout = [
  {xDom:[-0.23,7.44], xRng:[106,238], yRng:[901,790], xTicks:[0,2,4,6], ytX:88.3, ytY:832, xtY:925, sX:116.7, sY:796},
  {xDom:[-0.27,8], xRng:[270.7,404.6], yRng:[901,790], xTicks:[0,2,4,6,8], ytX:252.3, ytY:832, xtY:925, sX:286.7, sY:796},
  {xDom:[3.53,10], xRng:[434.3,571.5], yRng:[901,790], xTicks:[4,6,8,10], ytX:418.3, ytY:832, xtY:925, sX:448.3, sY:796.5},
  {xDom:[-0.56,10], xRng:[603.3,742.3], yRng:[901,790], xTicks:[0,5,10], ytX:589, ytY:832, xtY:925, sX:618.3, sY:796.5},
  {xDom:[0.9,10], xRng:[99.3,238.4], yRng:[1075,966], xTicks:[2,4,6,8,10], ytX:85, ytY:1012, xtY:1100, sX:119.3, sY:975},
  {xDom:[-0.27,8], xRng:[270.7,404.6], yRng:[1075,966], xTicks:[0,2,4,6,8], ytX:258, ytY:1012, xtY:1100, sX:289, sY:975},
  {xDom:[-0.48,6], xRng:[434.3,569.7], yRng:[1075,966], xTicks:[0,2,4,6], ytX:420, ytY:1012, xtY:1100, sX:450.7, sY:976.7},
  {xDom:[-0.64,10], xRng:[603.3,742.3], yRng:[1075,966], xTicks:[0,5,10], ytX:589, ytY:1012, xtY:1100, sX:621, sY:976.7}
];
const xtSize = sizeFor('TOP2A Expression (log2 TPM)', FC, 'bold', 144);
const ytSize = sizeFor('SETDB1 Expression level (log2 TPM)', FC, 'bold', 157);
const stSize = sizeFor('r = 0.6427', FC, 'bold', 38);
layout.forEach((L,i)=>{
  const g = svg.append('g');
  const x = d3.scaleLinear().domain(L.xDom).range(L.xRng);
  const y = d3.scaleLinear().domain([0,8]).range(L.yRng);
  g.selectAll('circle').data(scatterPts[i]).join('circle')
    .attr('cx',d=>x(d[0])).attr('cy',d=>y(d[1])).attr('r',1.2).attr('fill','#000');
  const f = fitLines[i], ci = fitCI[i];
  const mx = (f[0]+f[2])/2, my = (f[1]+f[3])/2;
  const band = [[f[0],f[1],ci[0]],[mx,my,ci[1]],[f[2],f[3],ci[2]]];
  g.append('path').datum(band).attr('d', d3.area().x(d=>x(d[0])).y0(d=>y(d[1]-d[2])).y1(d=>y(d[1]+d[2])).curve(d3.curveMonotoneX))
    .attr('fill','#FF6F6F').attr('opacity',0.75);
  g.append('line').attr('x1',x(f[0])).attr('y1',y(f[1])).attr('x2',x(f[2])).attr('y2',y(f[3])).attr('stroke','#FF0000').attr('stroke-width',1.8);
  const ya = g.append('g').attr('transform',`translate(${L.xRng[0]},0)`)
    .call(d3.axisLeft(y).tickValues(yTickVals).tickSize(2.5).tickSizeOuter(0).tickFormat(d3.format('d')));
  const xa = g.append('g').attr('transform',`translate(0,${L.yRng[0]+1})`)
    .call(d3.axisBottom(x).tickValues(L.xTicks).tickSize(2.5).tickSizeOuter(0).tickFormat(d3.format('d')));
  [ya,xa].forEach(a=>{
    a.selectAll('path,line').attr('stroke','#222').attr('stroke-width',1.1);
    a.selectAll('text').attr('font-family',FC).attr('font-weight','bold').attr('font-size',7).attr('fill','#333');
  });
  xa.selectAll('text').attr('dy','0.9em');
  txt(g, (L.xRng[0]+L.xRng[1])/2, L.xtY, scatterGenes[i]+' Expression (log2 TPM)', {f:FC, w:'bold', s:xtSize, c:'#222', a:'middle'});
  txt(g, L.ytX, L.ytY, 'SETDB1 Expression level (log2 TPM)', {f:FC, w:'bold', s:ytSize, c:'#222', a:'middle', r:-90});
  txt(g, L.sX, L.sY, rTexts[i], {f:FC, w:'bold', s:stSize, c:'#FF1A1A'});
  txt(g, L.sX, L.sY+11.7, pTexts[i], {f:FC, w:'bold', s:stSize, c:'#FF1A1A'});
});
</script>
</body></html>
